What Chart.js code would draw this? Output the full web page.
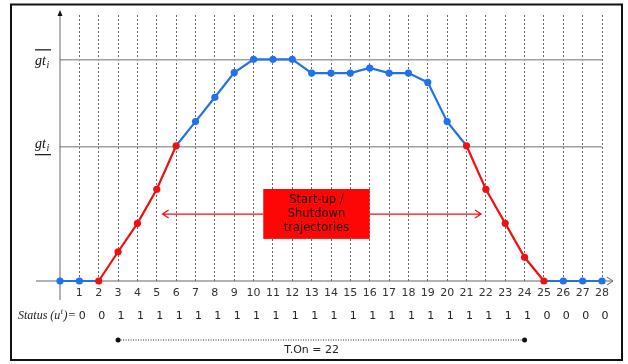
<!DOCTYPE html>
<html>
<head>
<meta charset="utf-8">
<script src="https://cdn.jsdelivr.net/npm/chart.js@4.4.1/dist/chart.umd.min.js"></script>
<style>
  body { margin: 0; background: #fff; }
  canvas { display: block; }
</style>
</head>
<body>
<canvas id="myChart" width="628" height="364"></canvas>
<script>
// time periods 0..28 and generator output (% of the upper limit)
const hours = [0, 1, 2, 3, 4, 5, 6, 7, 8, 9, 10, 11, 12, 13, 14, 15, 16, 17, 18, 19, 20, 21, 22, 23, 24, 25, 26, 27, 28];
const output = [0, 0, 0, 13.2, 26.0, 41.4, 61.0, 71.9, 82.9, 94.0, 100, 100, 100, 93.8, 93.8, 93.8, 96.1, 93.8, 93.8, 89.6, 71.9, 61.0, 41.4, 26.0, 10.7, 0, 0, 0, 0];

// points on the start-up / shutdown trajectories (drawn red)
const rampHours = [2, 3, 4, 5, 6, 21, 22, 23, 24, 25];

// status row under the axis, for hours 1..28
const statusHours = [1, 2, 3, 4, 5, 6, 7, 8, 9, 10, 11, 12, 13, 14, 15, 16, 17, 18, 19, 20, 21, 22, 23, 24, 25, 26, 27, 28];
const statusValues = [0, 0, 1, 1, 1, 1, 1, 1, 1, 1, 1, 1, 1, 1, 1, 1, 1, 1, 1, 1, 1, 1, 1, 1, 0, 0, 0, 0];

// limits drawn as horizontal lines
const gtLow = 60.6;
const gtHigh = 100;

const onHours = statusValues.filter(v => v === 1).length;
const onStart = statusHours[statusValues.indexOf(1)];
const onEnd = statusHours[statusValues.lastIndexOf(1)];

const blue = '#1f72ea';
const red = '#f01010';

function isRamp(i) {
    return rampHours.includes(hours[i]);
}

function drawGt(ctx, left, base, bar) {
    ctx.font = 'italic 14px "Liberation Serif"';
    ctx.textBaseline = 'alphabetic';
    ctx.textAlign = 'left';
    ctx.fillStyle = '#111';
    ctx.fillText('gt', left, base);
    const w = ctx.measureText('gt').width;
    ctx.font = 'italic 10px "Liberation Serif"';
    ctx.fillText('i', left + w + 0.5, base + 3);
    ctx.strokeStyle = '#111';
    ctx.lineWidth = 1.2;
    ctx.beginPath();
    ctx.moveTo(left, bar);
    ctx.lineTo(left + 16, bar);
    ctx.stroke();
}

const sketchPlugin = {
    id: 'sketch',
    beforeDatasetsDraw(chart) {
        const ctx = chart.ctx;
        const xs = chart.scales.x, ys = chart.scales.y;
        const x0 = xs.getPixelForValue(0);
        const y0 = ys.getPixelForValue(0);
        ctx.save();
        ctx.strokeStyle = '#666';
        ctx.lineWidth = 1;
        // y axis with arrow
        ctx.beginPath();
        ctx.moveTo(x0, y0 + 19);
        ctx.lineTo(x0, 14);
        ctx.stroke();
        ctx.fillStyle = '#111';
        ctx.beginPath();
        ctx.moveTo(x0, 10);
        ctx.lineTo(x0 - 2.5, 16);
        ctx.lineTo(x0 + 2.5, 16);
        ctx.closePath();
        ctx.fill();
        // x axis with arrow
        ctx.beginPath();
        ctx.moveTo(x0 - 24, y0);
        ctx.lineTo(xs.right + 11, y0);
        ctx.stroke();
        ctx.beginPath();
        ctx.moveTo(xs.right + 5, y0 - 4);
        ctx.lineTo(xs.right + 11, y0);
        ctx.lineTo(xs.right + 5, y0 + 4);
        ctx.stroke();
        ctx.restore();
    },
    afterDatasetsDraw(chart) {
        const ctx = chart.ctx;
        const xs = chart.scales.x, ys = chart.scales.y;
        ctx.save();

        // limit labels
        drawGt(ctx, 35, ys.getPixelForValue(gtHigh) + 6, ys.getPixelForValue(gtHigh) - 9.5);
        drawGt(ctx, 35, ys.getPixelForValue(gtLow) + 1, ys.getPixelForValue(gtLow) + 8);

        // annotation box and arrows
        const bx1 = xs.getPixelForValue(10.5), bx2 = xs.getPixelForValue(16);
        const by1 = ys.getPixelForValue(41.5), by2 = ys.getPixelForValue(19);
        const ay = ys.getPixelForValue(30.2);
        const leftTip = xs.getPixelForValue(5.3), rightTip = xs.getPixelForValue(21.75);
        ctx.strokeStyle = red;
        ctx.lineWidth = 1.3;
        ctx.beginPath();
        ctx.moveTo(bx1, ay); ctx.lineTo(leftTip, ay);
        ctx.moveTo(leftTip + 6, ay - 4); ctx.lineTo(leftTip, ay); ctx.lineTo(leftTip + 6, ay + 4);
        ctx.moveTo(bx2, ay); ctx.lineTo(rightTip, ay);
        ctx.moveTo(rightTip - 6, ay - 4); ctx.lineTo(rightTip, ay); ctx.lineTo(rightTip - 6, ay + 4);
        ctx.stroke();
        ctx.fillStyle = '#ff0606';
        ctx.fillRect(bx1, by1, bx2 - bx1, by2 - by1);
        ctx.fillStyle = '#1a0a0a';
        ctx.font = '11.5px "DejaVu Sans"';
        ctx.textAlign = 'center';
        ctx.textBaseline = 'middle';
        const bcx = (bx1 + bx2) / 2;
        ctx.fillText('Start-up /', bcx, ay - 14);
        ctx.fillText('Shutdown', bcx, ay);
        ctx.fillText('trajectories', bcx, ay + 14);

        // status row
        const sy = 316;
        ctx.fillStyle = '#222';
        ctx.textAlign = 'left';
        ctx.textBaseline = 'middle';
        let sx = 18;
        ctx.font = 'italic 12px "Liberation Serif"';
        ctx.fillText('Status (u', sx, sy);
        sx += ctx.measureText('Status (u').width;
        ctx.font = 'italic 8px "Liberation Serif"';
        ctx.fillText('t', sx + 0.5, sy - 4);
        sx += ctx.measureText('t').width + 1;
        ctx.font = 'italic 12px "Liberation Serif"';
        ctx.fillText(')', sx, sy);
        sx += ctx.measureText(')').width;
        ctx.font = '12px "Liberation Serif"';
        ctx.fillText('=', sx + 1, sy);
        ctx.font = '11px "DejaVu Sans"';
        ctx.textAlign = 'center';
        statusHours.forEach((h, i) => {
            ctx.fillText(String(statusValues[i]), xs.getPixelForValue(h) + 3, sy);
        });

        // T.On span
        const ly = 340;
        const lx1 = xs.getPixelForValue(onStart), lx2 = xs.getPixelForValue(onEnd);
        ctx.strokeStyle = '#222';
        ctx.lineWidth = 1;
        ctx.setLineDash([1, 1.5]);
        ctx.beginPath();
        ctx.moveTo(lx1, ly); ctx.lineTo(lx2, ly);
        ctx.stroke();
        ctx.setLineDash([]);
        ctx.fillStyle = '#111';
        [lx1, lx2].forEach(px => {
            ctx.beginPath();
            ctx.arc(px, ly, 2.5, 0, Math.PI * 2);
            ctx.fill();
        });
        ctx.fillStyle = '#222';
        ctx.fillText(`T.On = ${onHours}`, xs.getPixelForValue(13), 350);

        // frame
        ctx.strokeStyle = '#111';
        ctx.lineWidth = 2;
        ctx.strokeRect(11, 4.5, 611, 355.5);
        ctx.restore();
    }
};

new Chart('myChart', {
    type: 'line',
    data: {
        datasets: [{
            data: hours.map((h, i) => ({ x: h, y: output[i] })),
            borderWidth: 2.2,
            tension: 0,
            clip: false,
            pointRadius: 3.6,
            pointBorderWidth: 0,
            pointBackgroundColor: hours.map((h, i) => isRamp(i) ? red : blue),
            pointBorderColor: hours.map((h, i) => isRamp(i) ? red : blue),
            borderColor: blue,
            segment: {
                borderColor: c => (isRamp(c.p0DataIndex) && isRamp(c.p1DataIndex)) ? red : blue
            }
        }]
    },
    options: {
        responsive: false,
        animation: false,
        layout: { padding: { left: 60, right: 26, top: 15, bottom: 57.8 } },
        plugins: { legend: { display: false }, tooltip: { enabled: false } },
        scales: {
            x: {
                type: 'linear',
                min: 0,
                max: 28,
                ticks: {
                    stepSize: 1,
                    autoSkip: false,
                    maxRotation: 0,
                    padding: 6,
                    color: '#333',
                    font: { family: 'DejaVu Sans', size: 11 },
                    callback: v => v === 0 ? '' : v
                },
                grid: {
                    drawTicks: false,
                    lineWidth: 1,
                    color: c => c.tick && c.tick.value === 0 ? 'rgba(0,0,0,0)' : '#666'
                },
                border: { display: false, dash: [2, 2] }
            },
            y: {
                min: 0,
                max: 120,
                afterBuildTicks: axis => {
                    axis.ticks = [0, gtLow, gtHigh].map(v => ({ value: v }));
                },
                ticks: { display: false },
                grid: {
                    drawTicks: false,
                    lineWidth: 1.5,
                    color: c => c.tick && c.tick.value === 0 ? 'rgba(0,0,0,0)' : '#a0a0a0'
                },
                border: { display: false }
            }
        }
    },
    plugins: [sketchPlugin]
});
</script>
</body>
</html>
